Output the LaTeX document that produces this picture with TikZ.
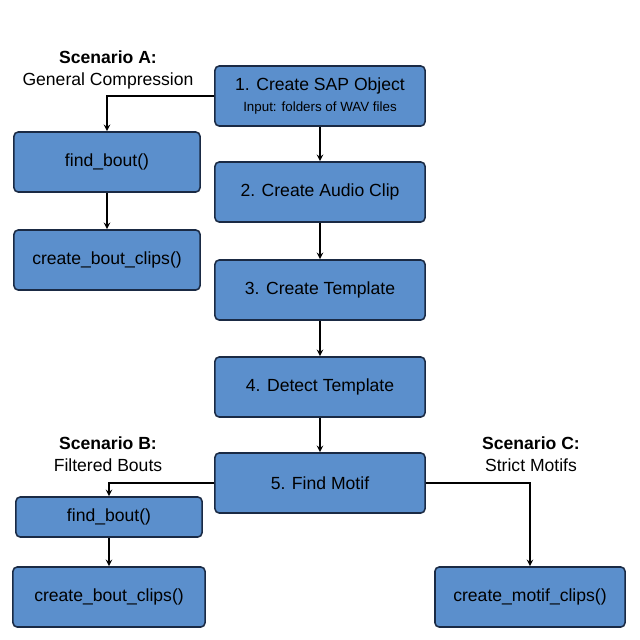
\documentclass[tikz,border=0pt]{standalone}
\usepackage{fontspec}
\setmainfont{Liberation Sans}
\usetikzlibrary{arrows,positioning}
\definecolor{boxfill}{HTML}{5B8FCC}
\definecolor{boxline}{HTML}{1A2A44}
\tikzset
{
    stage/.style  = {rectangle, rounded corners=3pt, draw=boxline, fill=boxfill, line width=1.1pt, align=center, minimum width=5.25cm, minimum height=1.5cm, inner sep=0pt, font=\fontsize{12.5}{14}\selectfont},
    call/.style   = {stage, minimum width=4.65cm},
    tag/.style    = {align=center, font=\fontsize{12.5}{16}\selectfont},
    arrow/.style  = {line width=1.1pt, ->, >=stealth}
}
\begin{document}
\begin{tikzpicture}[x=0.025cm, y=-0.025cm]
   \useasboundingbox (0,0) rectangle (640,640);

   \node (sap)   [stage] at (320, 96)  {1. Create SAP Object\\[1pt]{\fontsize{9.5}{11}\selectfont Input: folders of WAV files}};
   \node (clip)  [stage] at (320, 192) {2. Create Audio Clip};
   \node (tmpl)  [stage] at (320, 290) {3. Create Template};
   \node (det)   [stage] at (320, 387) {4. Detect Template};
   \node (motif) [stage] at (320, 483) {5. Find Motif};

   \node (afind) [call] at (107, 162) {find\_bout()};
   \node (aclip) [call] at (107, 260) {create\_bout\_clips()};
   \node (bfind) [call, minimum height=1cm] at (109, 517) {find\_bout()};
   \node (bclip) [call, minimum width=4.8cm] at (109, 597) {create\_bout\_clips()};
   \node (cclip) [call, minimum width=4.75cm] at (530, 597) {create\_motif\_clips()};

   \node (sa) [tag] at (108, 70)  {\textbf{Scenario A:}\\General Compression};
   \node (sb) [tag] at (108, 454) {\textbf{Scenario B:}\\Filtered Bouts};
   \node (sc) [tag] at (531, 454) {\textbf{Scenario C:}\\Strict Motifs};

   \draw[arrow] (sap) -- (clip);
   \draw[arrow] (clip) -- (tmpl);
   \draw[arrow] (tmpl) -- (det);
   \draw[arrow] (det) -- (motif);
   \draw[arrow] (sap.west) -| (afind.north);
   \draw[arrow] (afind) -- (aclip);
   \draw[arrow] (motif.west) -| (bfind.north);
   \draw[arrow] (bfind) -- (bclip);
   \draw[arrow] (motif.east) -| (cclip.north);
\end{tikzpicture}
\end{document}
